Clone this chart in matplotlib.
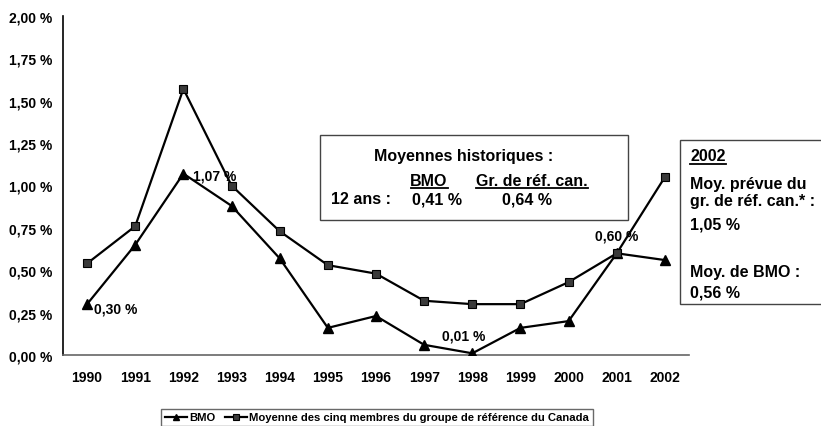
import matplotlib
matplotlib.use("Agg")
import matplotlib.pyplot as plt
from matplotlib.patches import Rectangle
from matplotlib.lines import Line2D

years = ["1990", "1991", "1992", "1993", "1994", "1995", "1996", "1997", "1998", "1999", "2000", "2001", "2002"]
bmo = [0.30, 0.65, 1.07, 0.88, 0.57, 0.16, 0.23, 0.06, 0.01, 0.16, 0.20, 0.60, 0.56]
peer = [0.54, 0.76, 1.57, 1.00, 0.73, 0.53, 0.48, 0.32, 0.30, 0.30, 0.43, 0.60, 1.05]
yticks = [0.0, 0.25, 0.5, 0.75, 1.0, 1.25, 1.5, 1.75, 2.0]
ytick_labels = ["0,00 %", "0,25 %", "0,50 %", "0,75 %", "1,00 %", "1,25 %", "1,50 %", "1,75 %", "2,00 %"]
annot = {0: "0,30 %", 2: "1,07 %", 8: "0,01 %", 11: "0,60 %"}

plt.rcParams['font.family'] = ['Liberation Sans', 'DejaVu Sans']
plt.rcParams['font.weight'] = 'bold'

fig = plt.figure(figsize=(8.21, 4.27), dpi=100)
ax = fig.add_axes([63/821, 71/427, 626/821, 339/427])
x = list(range(len(years)))

ax.plot(x, bmo, color='black', lw=1.6, marker='^', ms=6.5, mfc='black', mec='black', zorder=3)
ax.plot(x, peer, color='black', lw=1.6, marker='s', ms=6, mfc='#3a3a3a', mec='black', mew=0.8, zorder=3)

ax.set_xlim(-0.5, len(years) - 0.5)
ax.set_ylim(0, 2.0)
ax.set_yticks(yticks)
ax.set_yticklabels(ytick_labels, fontsize=10, fontweight='bold')
ax.set_xticks(x)
ax.set_xticklabels(years, fontsize=10, fontweight='bold')
ax.tick_params(axis='both', length=0)
ax.tick_params(axis='x', pad=11)
ax.tick_params(axis='y', pad=8)
for s in ['top', 'right']:
    ax.spines[s].set_visible(False)
ax.spines['left'].set_color('black')
ax.spines['left'].set_linewidth(1.2)
ax.spines['bottom'].set_color('#666666')
ax.spines['bottom'].set_linewidth(1.2)

# annotations
ax.annotate(annot[0], (0, bmo[0]), xytext=(5, -3), textcoords='offset points', fontsize=10, fontweight='bold', va='center')
ax.annotate(annot[2], (2, bmo[2]), xytext=(7, -1), textcoords='offset points', fontsize=10, fontweight='bold', va='center')
ax.annotate(annot[8], (8, bmo[8]), xytext=(-6, 12.5), textcoords='offset points', fontsize=10, fontweight='bold', va='center', ha='center')
ax.annotate(annot[11], (11, bmo[11]), xytext=(0, 12.5), textcoords='offset points', fontsize=10, fontweight='bold', va='center', ha='center')

def px(xp, yp):
    return xp / 821, 1 - yp / 427

def hline(x0, x1, y):
    fig.add_artist(Line2D([x0/821, x1/821], [1 - y/427, 1 - y/427], transform=fig.transFigure,
                          color='black', lw=1.3, zorder=7))

# box 1
fig.patches.append(Rectangle(px(320, 221), 308/821, 85/427, transform=fig.transFigure,
                             fill=True, facecolor='white', edgecolor='#444444', lw=1.0, zorder=5))
t = dict(fontsize=11.5, fontweight='bold', transform=fig.transFigure, zorder=6)
fig.text(*px(464, 157), "Moyennes historiques :", ha='center', va='center', **t)
fig.text(*px(429, 182), "BMO", ha='center', va='center', **t)
fig.text(*px(532, 182), "Gr. de réf. can.", ha='center', va='center', **t)
hline(411, 448, 189)
hline(476, 588, 189)
fig.text(*px(331, 200), "12 ans :", ha='left', va='center', **t)
fig.text(*px(437, 200), "0,41 %", ha='center', va='center', **t)
fig.text(*px(527, 200), "0,64 %", ha='center', va='center', **t)

# box 2
fig.patches.append(Rectangle(px(680, 305), 145/821, 164/427, transform=fig.transFigure,
                             fill=True, facecolor='white', edgecolor='#444444', lw=1.0, zorder=5))
fig.text(*px(690, 157), "2002", ha='left', va='center', **t)
hline(690, 726, 165)
fig.text(*px(690, 193), "Moy. prévue du\ngr. de réf. can.* :", ha='left', va='center', linespacing=1.15, **t)
fig.text(*px(690, 225), "1,05 %", ha='left', va='center', **t)
fig.text(*px(690, 272), "Moy. de BMO :", ha='left', va='center', **t)
fig.text(*px(690, 293), "0,56 %", ha='left', va='center', **t)

# legend
h1 = Line2D([], [], color='black', lw=1.6, marker='^', ms=5, mfc='black', mec='black')
h2 = Line2D([], [], color='black', lw=1.6, marker='s', ms=4.5, mfc='#3a3a3a', mec='black', mew=0.8)
leg = fig.legend([h1, h2], ["BMO", "Moyenne des cinq membres du groupe de référence du Canada"],
                 loc='lower left', bbox_to_anchor=(155/821, -6/427), ncol=2, frameon=True, fancybox=False,
                 handlelength=2.0, handletextpad=0.2, columnspacing=0.8, borderpad=0.35,
                 prop={'weight': 'bold', 'size': 8.1})
leg.get_frame().set_edgecolor('#444444')
leg.get_frame().set_linewidth(1.0)

fig.savefig("out.png", dpi=100)
